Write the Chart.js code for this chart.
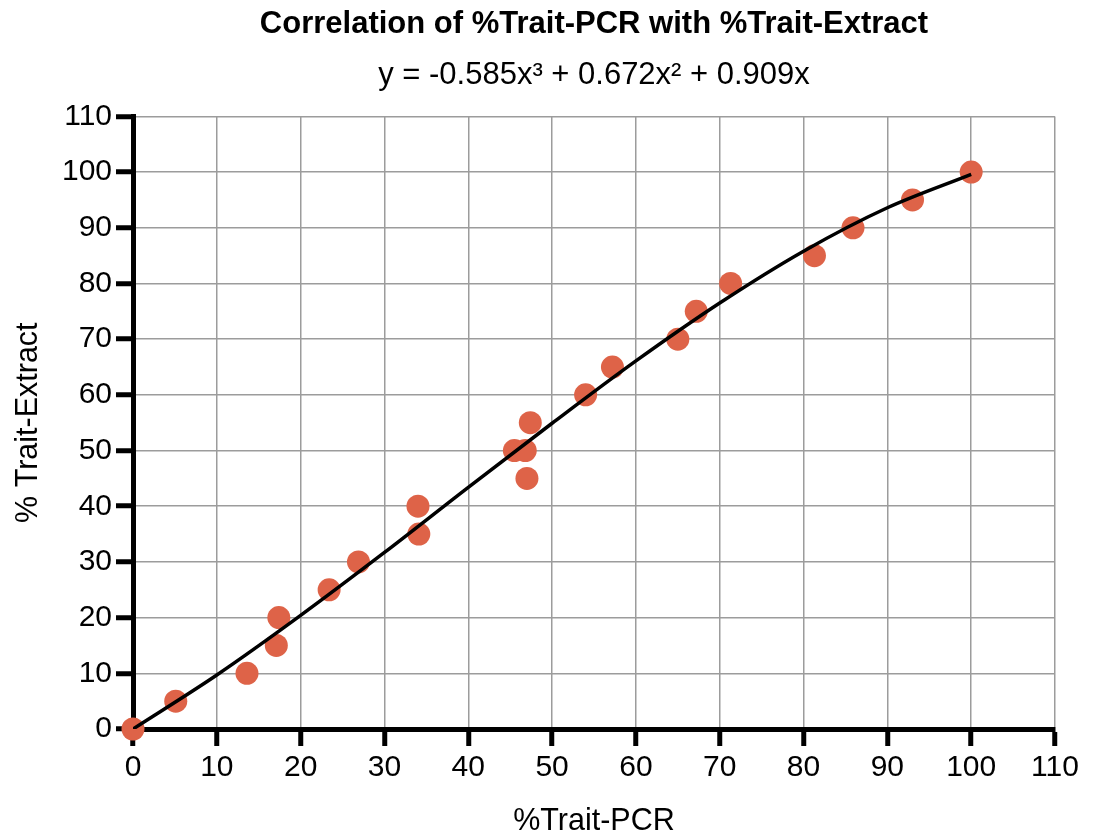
<!DOCTYPE html>
<html>
<head>
<meta charset="utf-8">
<script src="https://cdn.jsdelivr.net/npm/chart.js@4/dist/chart.umd.min.js"></script>
<style>
  html, body { margin: 0; padding: 0; background: #fff; }
  #wrap { width: 1096px; height: 834px; }
</style>
</head>
<body>
<div id="wrap"><canvas id="chart" width="1096" height="834"></canvas></div>
<script>
// Measured points (% Trait-PCR vs % Trait-Extract)
const pcrValues = [0, 5.1, 13.6, 17.1, 17.4, 23.4, 26.9, 34.1, 34.0, 45.5, 46.8, 47.0, 47.4, 54.0, 57.2, 65.0, 67.2, 71.3, 81.3, 85.9, 93.0, 100];
const extractValues = [0, 5, 10, 15, 20, 25, 30, 35, 40, 50, 50, 45, 55, 60, 65, 70, 75, 80, 85, 90, 95, 100];

// Fitted curve
const fitX = [0, 10, 20, 30, 40, 50, 60, 70, 80, 90, 100];
const fitY = [0, 9.7, 20.4, 31.7, 43.4, 54.9, 66.1, 76.5, 85.8, 93.6, 99.6];

const titleText = "Correlation of %Trait-PCR with %Trait-Extract";
const subtitleText = "y = -0.585x\u00B3 + 0.672x\u00B2 + 0.909x";

const FONT = "'Liberation Sans', Arial, Helvetica, sans-serif";
const dotColor = "rgb(222,99,72)";
const gridColor = "#9c9c9c";

const points = pcrValues.map((x, i) => ({ x: x, y: extractValues[i] }));
const curve = fitX.map((x, i) => ({ x: x, y: fitY[i] }));

// shared axis look
function axisOptions(titleLabel, extra) {
  return Object.assign({
    type: "linear",
    min: 0,
    max: 110,
    ticks: { stepSize: 10, color: "#000", padding: 4, font: { family: FONT, size: 30 } },
    grid: { color: gridColor, lineWidth: 1.5, tickColor: "#000", tickWidth: 5, tickLength: 17 },
    border: { display: true, color: "#000", width: 5 },
    title: { display: true, text: titleLabel, color: "#000", font: { family: FONT, size: 30.5 } }
  }, extra);
}

const xAxis = axisOptions("%Trait-PCR", {
  afterFit: scale => { scale.height = 105; }
});
xAxis.title.font.lineHeight = 0.8;
xAxis.title.padding = 0;

const yAxis = axisOptions("% Trait-Extract", {
  afterFit: scale => { scale.width = 133; }
});
yAxis.title.padding = { top: 10, bottom: 0 };

// center title + subtitle over the plot area instead of the whole canvas
const centerTitles = {
  id: "centerTitles",
  afterLayout(chart) {
    const area = chart.chartArea;
    chart.boxes.forEach(b => {
      if (b.position === "top" && !b.axis) {
        b.left = area.left;
        b.right = area.right;
        b.width = area.right - area.left;
      }
    });
  }
};

new Chart(document.getElementById("chart"), {
  type: "scatter",
  data: {
    datasets: [
      {
        type: "line",
        label: "fit",
        data: curve,
        borderColor: "#000",
        borderWidth: 3.5,
        pointRadius: 0,
        fill: false,
        cubicInterpolationMode: "monotone",
        order: 0
      },
      {
        label: "samples",
        data: points,
        backgroundColor: dotColor,
        borderColor: dotColor,
        borderWidth: 0,
        pointRadius: 11.5,
        pointHoverRadius: 11.5,
        clip: false,
        order: 1
      }
    ]
  },
  options: {
    responsive: false,
    animation: false,
    layout: { padding: { left: 0, right: 41, top: 0, bottom: 0 } },
    plugins: {
      legend: { display: false },
      tooltip: { enabled: false },
      title: {
        display: true,
        text: titleText,
        color: "#000",
        font: { family: FONT, size: 31, weight: "bold" },
        padding: { top: 6, bottom: 14 }
      },
      subtitle: {
        display: true,
        text: subtitleText,
        color: "#000",
        font: { family: FONT, size: 31 },
        padding: { top: 0, bottom: 22 }
      }
    },
    scales: { x: xAxis, y: yAxis }
  },
  plugins: [centerTitles]
});
</script>
</body>
</html>
